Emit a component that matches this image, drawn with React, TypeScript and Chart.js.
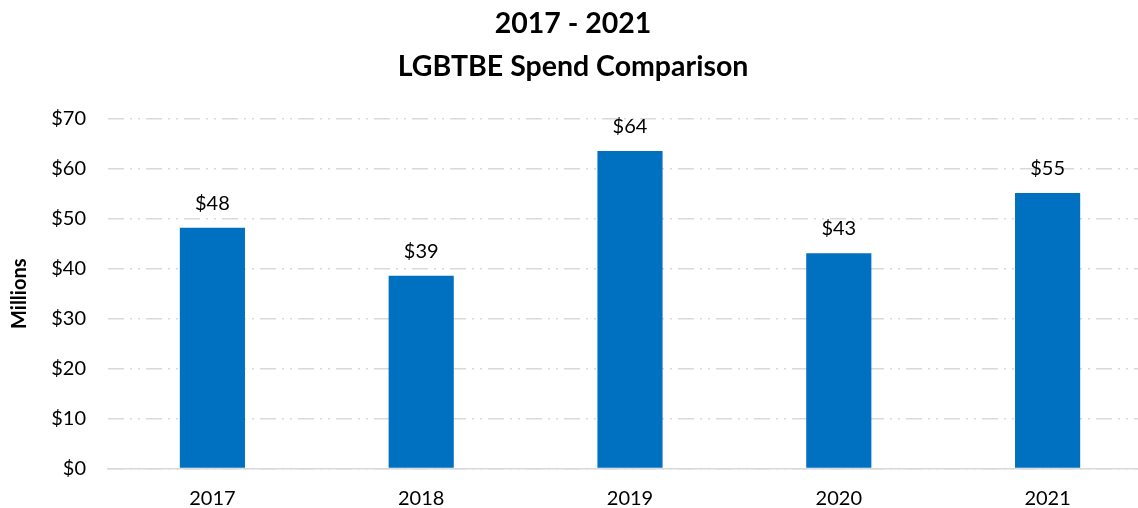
import React, { useEffect, useRef } from "react";
import { Chart, registerables } from "chart.js";

Chart.register(...registerables);

const categories = ["2017", "2018", "2019", "2020", "2021"];
const spendMillions = [48.2, 38.6, 63.6, 43.1, 55.2];
const valueLabels = ["$48", "$39", "$64", "$43", "$55"];
const titleLines = ["2017 - 2021", "LGBTBE Spend Comparison"];
const yAxisTitle = "Millions";
const yMin = 0;
const yMax = 70;
const yStep = 10;

const FONT = "Lato, 'Open Sans', sans-serif";
const BAR_COLOR = "#0070C0";
const GRID_COLOR = "#D9D9D9";

const valueLabelPlugin = {
  id: "valueLabels",
  afterDatasetsDraw(chart: any) {
    const ctx = chart.ctx;
    const meta = chart.getDatasetMeta(0);
    ctx.save();
    ctx.font = `20px ${FONT}`;
    ctx.fillStyle = "#000000";
    ctx.textAlign = "center";
    ctx.textBaseline = "alphabetic";
    meta.data.forEach((bar: any, i: number) => {
      ctx.fillText(valueLabels[i], bar.x, bar.y - 18);
    });
    ctx.restore();
  },
};

const titleCenterPlugin = {
  id: "titleCenter",
  afterLayout(chart: any) {
    if (chart.titleBlock) {
      chart.titleBlock.left = 0;
      chart.titleBlock.right = 1146;
    }
  },
};

export default function App() {
  const canvasRef = useRef<HTMLCanvasElement | null>(null);

  useEffect(() => {
    if (!canvasRef.current) return;
    const chart = new Chart(canvasRef.current, {
      type: "bar",
      data: {
        labels: categories,
        datasets: [
          {
            data: spendMillions,
            backgroundColor: BAR_COLOR,
            borderWidth: 0,
            categoryPercentage: 0.312,
            barPercentage: 1,
          },
        ],
      },
      options: {
        responsive: false,
        animation: false,
        layout: { padding: { left: 0, right: 18, top: 0, bottom: 0 } },
        plugins: {
          legend: { display: false },
          tooltip: { enabled: false },
          title: {
            display: true,
            text: titleLines,
            color: "#000000",
            font: { family: FONT, size: 28.5, weight: "bold", lineHeight: "43px" },
            padding: { top: 2, bottom: 31 },
          },
        },
        scales: {
          x: {
            grid: { display: false, drawTicks: false },
            border: { display: true, color: GRID_COLOR, width: 1.5 },
            ticks: {
              color: "#000000",
              font: { family: FONT, size: 20 },
              padding: 18,
            },
            afterFit(scale: any) {
              scale.height = 39.5;
            },
          },
          y: {
            min: yMin,
            max: yMax,
            grid: { color: GRID_COLOR, lineWidth: 1.5, drawTicks: false },
            border: { display: false, dash: [16, 6, 2, 6, 2, 6] },
            ticks: {
              stepSize: yStep,
              color: "#000000",
              font: { family: FONT, size: 20 },
              padding: 22,
              callback: (v: any) => "$" + v,
            },
            title: {
              display: true,
              text: yAxisTitle,
              color: "#000000",
              font: { family: FONT, size: 20, weight: "bold", lineHeight: 1.2 },
              padding: { top: 8, bottom: 0 },
            },
            afterFit(scale: any) {
              scale.width = 108;
            },
          },
        },
      },
      plugins: [valueLabelPlugin, titleCenterPlugin],
    });
    return () => chart.destroy();
  }, []);

  return (
    <div
      style={{
        position: "fixed",
        left: 0,
        top: 0,
        width: 1138,
        height: 508,
        overflow: "hidden",
        background: "#ffffff",
      }}
    >
      <canvas ref={canvasRef} width={1170} height={508} />
    </div>
  );
}
